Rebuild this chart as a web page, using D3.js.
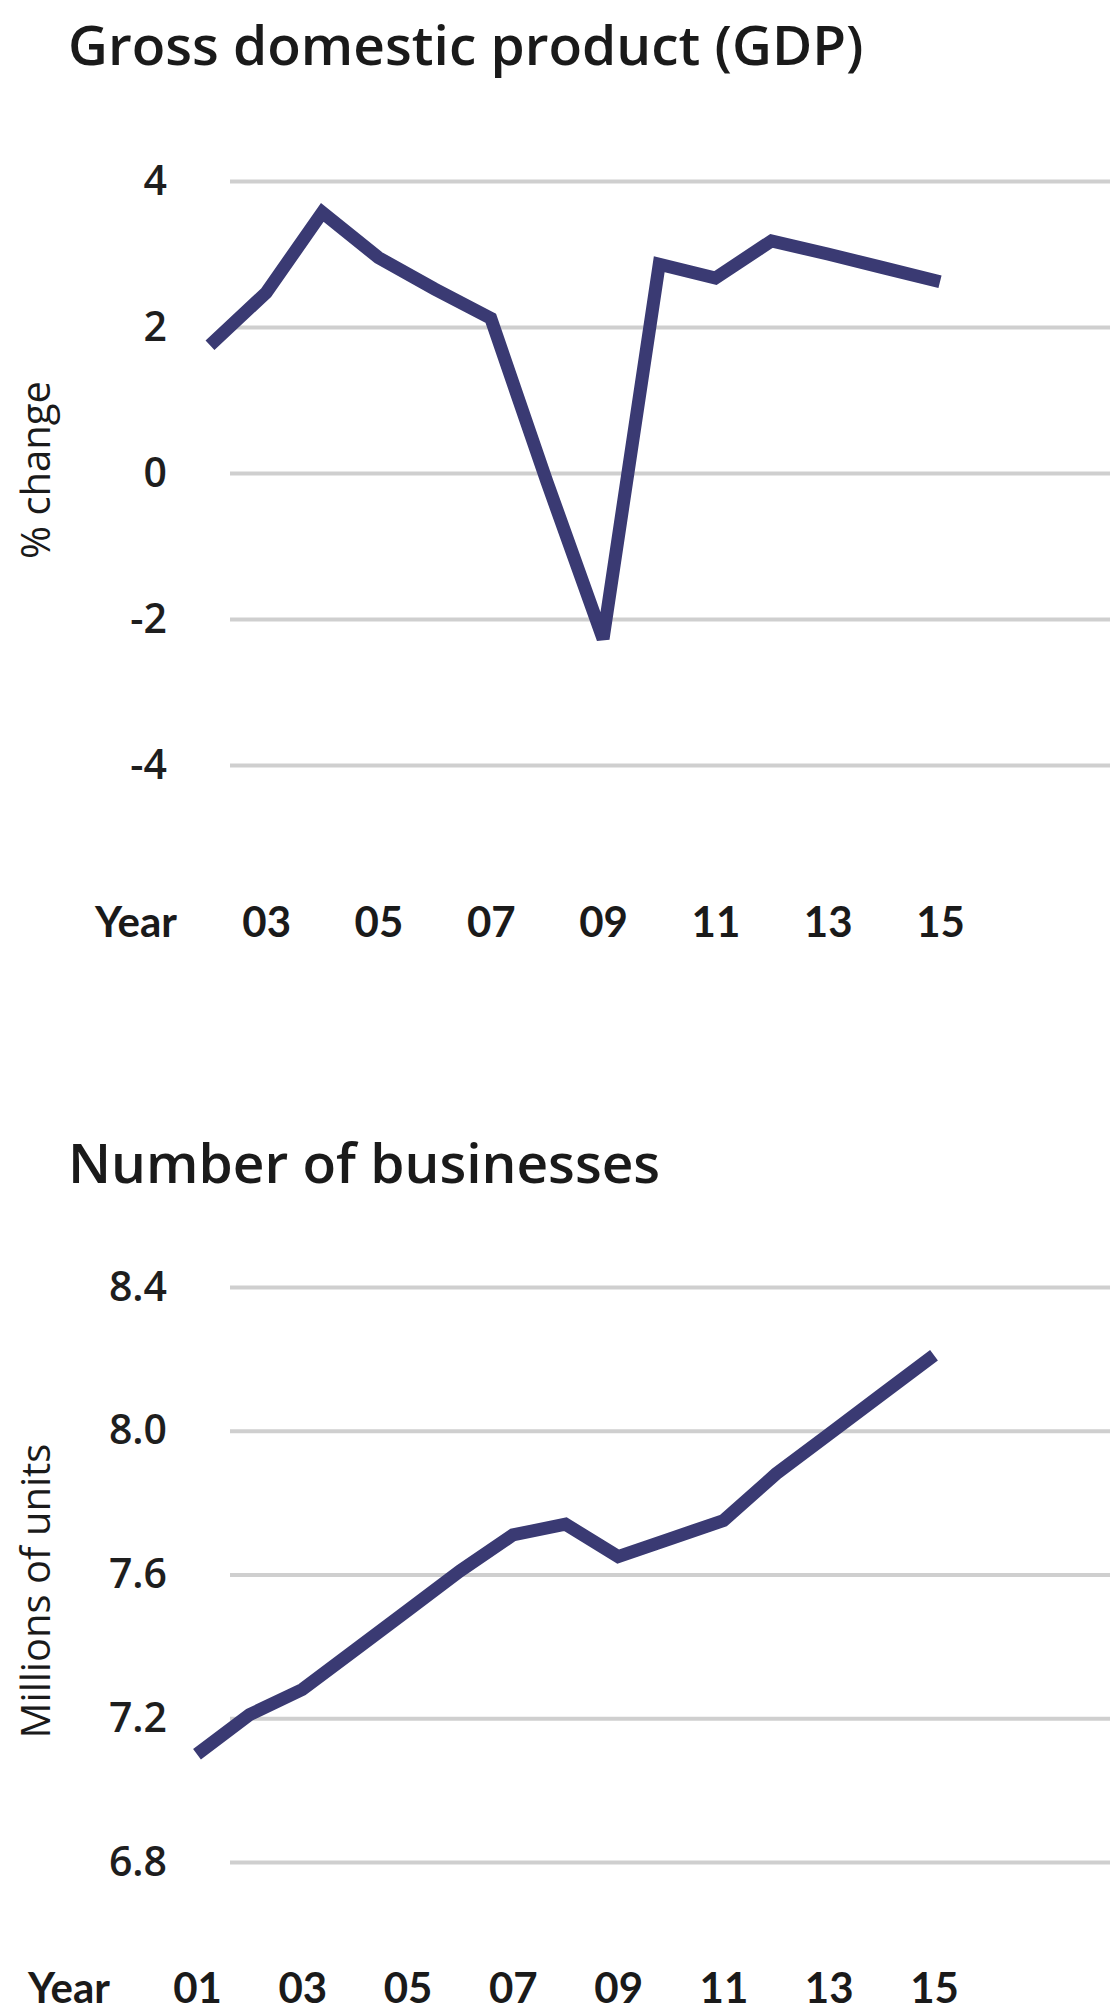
<!DOCTYPE html>
<html>
<head>
<meta charset="utf-8">
<script src="https://cdn.jsdelivr.net/npm/d3@7"></script>
<style>
  body { margin: 0; background: #fff; }
  .grid line { stroke: #cfcfcf; stroke-width: 4px; }
  .tick text { fill: #1e1e1e; }
</style>
</head>
<body>
<script>
const width = 1117;
const height = 2013;

// GDP, % change
const gdpYears = [2002, 2003, 2004, 2005, 2006, 2007, 2008, 2009, 2010, 2011, 2012, 2013, 2014, 2015];
const gdpValues = [1.75, 2.47, 3.57, 2.95, 2.52, 2.12, -0.12, -2.27, 2.86, 2.67, 3.18, 3.0, 2.81, 2.62];
const gdpTicks = [4, 2, 0, -2, -4];
const gdpYearTicks = [2003, 2005, 2007, 2009, 2011, 2013, 2015];

// Number of businesses, millions of units
const bizYears = [2001, 2002, 2003, 2004, 2005, 2006, 2007, 2008, 2009, 2010, 2011, 2012, 2013, 2014, 2015];
const bizValues = [7.10, 7.21, 7.28, 7.39, 7.50, 7.61, 7.71, 7.74, 7.65, 7.70, 7.75, 7.88, 7.99, 8.10, 8.21];
const bizTicks = [8.4, 8.0, 7.6, 7.2, 6.8];
const bizYearTicks = [2001, 2003, 2005, 2007, 2009, 2011, 2013, 2015];

const lineColor = "#3a3a73";
const gridStart = 230;
const gridEnd = 1110;

const svg = d3.select("body")
	.append("svg")
	.attr("width", width)
	.attr("height", height);

function drawChart(opts) {
	const y = d3.scaleLinear().domain(opts.yDomain).range(opts.yRange);
	const x = d3.scaleLinear().domain(opts.xDomain).range(opts.xRange);

	// title
	svg.append("text")
		.attr("x", 68)
		.attr("y", opts.titleY)
		.style("font-family", "Open Sans")
		.style("font-weight", 600)
		.style("font-size", "55px")
		.style("fill", "#1a1a1a")
		.text(opts.title);

	// gridlines + tick labels
	const yAxis = d3.axisLeft(y)
		.tickValues(opts.ticks)
		.tickSize(-(gridEnd - gridStart))
		.tickPadding(63)
		.tickFormat(opts.fmt);

	const g = svg.append("g")
		.attr("class", "grid")
		.attr("transform", `translate(${gridStart},0)`)
		.call(yAxis);
	g.select(".domain").remove();
	g.selectAll(".tick text")
		.style("font-family", "Open Sans")
		.style("font-weight", 600)
		.style("font-size", "41px");

	// axis title
	svg.append("text")
		.attr("transform", `translate(50,${opts.axisTitleY}) rotate(-90)`)
		.attr("text-anchor", "middle")
		.style("font-family", "Open Sans")
		.style("font-size", "40px")
		.style("fill", "#1a1a1a")
		.text(opts.axisTitle);

	// year labels
	const xAxis = d3.axisBottom(x)
		.tickValues(opts.yearTicks)
		.tickSize(0)
		.tickPadding(0)
		.tickFormat(d => d3.format("02d")(d % 100));

	const gx = svg.append("g")
		.attr("transform", `translate(0,${opts.yearY})`)
		.call(xAxis);
	gx.select(".domain").remove();
	gx.selectAll(".tick text")
		.attr("dy", 0)
		.style("font-family", "Lato")
		.style("font-weight", "bold")
		.style("font-size", "42px")
		.style("fill", "#1a1a1a");

	svg.append("text")
		.attr("x", opts.yearLabelX)
		.attr("y", opts.yearY)
		.style("font-family", "Lato")
		.style("font-weight", "bold")
		.style("font-size", "42px")
		.style("fill", "#1a1a1a")
		.text("Year");

	// the line
	const line = d3.line()
		.x((d, i) => x(opts.years[i]))
		.y(d => y(d));

	svg.append("path")
		.datum(opts.values)
		.attr("d", line)
		.attr("fill", "none")
		.attr("stroke", lineColor)
		.attr("stroke-width", 13)
		.attr("stroke-linejoin", "miter");
}

drawChart({
	title: "Gross domestic product (GDP)",
	titleY: 65,
	yDomain: [-4, 4],
	yRange: [765, 181],
	xDomain: [2002, 2015],
	xRange: [210, 940],
	ticks: gdpTicks,
	fmt: d => String(d),
	axisTitle: "% change",
	axisTitleY: 470,
	yearTicks: gdpYearTicks,
	yearY: 937,
	yearLabelX: 95,
	years: gdpYears,
	values: gdpValues
});

drawChart({
	title: "Number of businesses",
	titleY: 1183,
	yDomain: [6.8, 8.4],
	yRange: [1862, 1287],
	xDomain: [2001, 2015],
	xRange: [197, 934],
	ticks: bizTicks,
	fmt: d => d.toFixed(1),
	axisTitle: "Millions of units",
	axisTitleY: 1591,
	yearTicks: bizYearTicks,
	yearY: 2003,
	yearLabelX: 28,
	years: bizYears,
	values: bizValues
});
</script>
</body>
</html>
